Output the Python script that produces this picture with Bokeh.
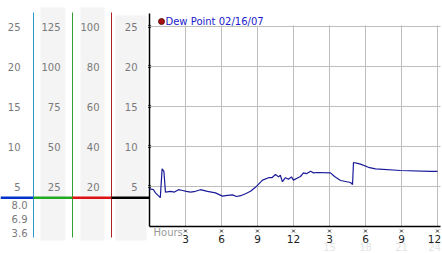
from bokeh.plotting import figure
from bokeh.embed import file_html
from bokeh.resources import INLINE
from bokeh.core.properties import value
from bokeh.models import Range1d

# ---------------- data ----------------
hours = [0.0, 0.33, 0.5, 0.9, 1.05, 1.2, 1.33, 1.75, 2.08, 2.42, 2.75, 3.08, 3.42, 3.83,
         4.25, 4.83, 5.5, 6.08, 6.5, 6.92, 7.25, 7.6, 8.0, 8.42, 8.83, 9.42, 9.92, 10.2,
         10.5, 10.75, 10.9, 11.08, 11.33, 11.58, 11.83, 12.0, 12.25, 12.58, 12.83, 13.08,
         13.42, 13.67, 14.0, 15.08, 15.42, 15.92, 16.75, 16.92, 17.0, 17.33, 17.58, 18.25,
         18.83, 20.92, 23.42, 24.0]
dew = [4.7, 4.6, 4.2, 3.6, 7.2, 6.9, 4.3, 4.4, 4.3, 4.6, 4.5, 4.4, 4.3, 4.4,
       4.6, 4.4, 4.2, 3.8, 3.9, 3.95, 3.75, 3.85, 4.1, 4.4, 4.9, 5.8, 6.1, 6.1,
       6.5, 6.2, 6.4, 5.6, 6.1, 5.9, 6.2, 5.8, 6.0, 6.25, 6.7, 6.6,
       6.9, 6.7, 6.75, 6.7, 6.25, 5.75, 5.5, 5.25, 8.0, 7.9, 7.8, 7.4,
       7.2, 7.0, 6.9, 6.9]

y_ticks = [5, 10, 15, 20, 25]
x_ticks = [3, 6, 9, 12, 15, 18, 21, 24]
x_tick_labels = ["3", "6", "9", "12", "3", "6", "9", "12"]
x_faint_ticks = [15, 18, 21, 24]
x_faint_labels = ["15", "18", "21", "24"]
scale1_labels = ["25", "20", "15", "10", "5"]
scale2_labels = ["125", "100", "75", "50", "25"]
scale3_labels = ["100", "80", "60", "40", "20"]
scale4_labels = ["25", "20", "15", "10", "5"]
series_name = "Dew Point 02/16/07"
x_title = "Hours"

# ---------------- figure ----------------
PX = 12.0   # px per hour
PY = 8.0    # px per unit
X0 = 149.0  # pixel of hour 0
Y0 = 226.0  # pixel of value 0
W, H = 442, 253

def hx(px):
    return (px - X0) / PX

def vy(py):
    return (Y0 - py) / PY

p = figure(width=W, height=H, output_backend="svg", toolbar_location=None,
           x_range=Range1d(hx(0), hx(W)), y_range=Range1d(vy(H), vy(0)),
           min_border=0, outline_line_color=None, background_fill_color="white",
           border_fill_color="white")
p.axis.visible = False
p.grid.visible = False

font = value("DejaVu Sans")
lab_col = "#7a7a7a"

# grey column backgrounds
p.quad(left=[hx(40), hx(80), hx(115)], right=[hx(65), hx(104), hx(146)],
       top=[vy(7), vy(7), vy(15)], bottom=[vy(240)] * 3,
       fill_color="#f4f4f4", line_color=None)

# scale labels
for labels, pxr in ((scale1_labels, 20), (scale2_labels, 60), (scale3_labels, 99), (scale4_labels, 137)):
    p.text(x=[hx(pxr)] * len(labels), y=y_ticks[::-1], text=labels, text_align="right",
           text_baseline="middle", text_font=font, text_font_size="10px", text_color=lab_col)

# coloured vertical scale lines
vcols = ["#3399cc", "#33a033", "#aa2222"]
p.segment(x0=[hx(33), hx(72), hx(111)], x1=[hx(33), hx(72), hx(111)],
          y0=[vy(12)] * 3, y1=[vy(237)] * 3, line_color=vcols, line_width=1)

# baseline at minimum
dmin = min(dew)
dmax = max(dew)
dlast = dew[-1]
p.segment(x0=[hx(0), hx(33), hx(72), hx(111)], x1=[hx(33), hx(72), hx(111), 0],
          y0=[dmin] * 4, y1=[dmin] * 4,
          line_color=["#0033cc", "#22aa22", "#dd1111", "#000000"], line_width=2.5)

# stats labels
stats = ["%.1f" % dmax, "%.1f" % dlast, "%.1f" % dmin]
p.text(x=[hx(27)] * 3, y=[dmin - 0.9, dmin - 2.65, dmin - 4.45], text=stats,
       text_align="right", text_baseline="middle", text_font=font,
       text_font_size="10px", text_color=lab_col)

# grid
grid_col = "#bdbdbd"
p.segment(x0=[0] * len(y_ticks), x1=[hx(440)] * len(y_ticks), y0=y_ticks, y1=y_ticks,
          line_color=grid_col, line_width=1)
p.segment(x0=x_ticks, x1=x_ticks, y0=[0] * len(x_ticks), y1=[vy(25)] * len(x_ticks),
          line_color=grid_col, line_width=1)

# axes
p.segment(x0=[0, 0], x1=[0, hx(440)], y0=[vy(13), 0], y1=[0, 0], line_color="black", line_width=1.5)

# tick marks
p.scatter(x=[0] * len(y_ticks), y=y_ticks, marker="x", size=4, line_color="#333333", line_width=1)
p.scatter(x=x_ticks, y=[vy(230.5)] * len(x_ticks), marker="x", size=4, line_color="#333333", line_width=1)

# tick labels (last one nudged inward so it stays inside the picture)
offs = [0] * (len(x_ticks) - 1) + [-3]
p.text(x=x_ticks, y=[vy(238.5)] * len(x_ticks), text=x_tick_labels, x_offset=offs,
       text_align="center", text_baseline="middle", text_font=font,
       text_font_size="10.5px", text_color="#222222")
foffs = [0] * (len(x_faint_ticks) - 1) + [-3]
p.text(x=x_faint_ticks, y=[vy(246.5)] * len(x_faint_ticks), text=x_faint_labels, x_offset=foffs,
       text_align="center", text_baseline="middle", text_font=font,
       text_font_size="10px", text_color="#e4e4e4")
p.text(x=[hx(153)], y=[vy(232)], text=[x_title], text_align="left", text_baseline="middle",
       text_font=font, text_font_size="10px", text_color="#9a9a9a")

# series
p.line(hours, dew, line_color="#1a1a99", line_width=1.2)

# legend
p.scatter(x=[hx(161)], y=[vy(21)], marker="circle", size=6, fill_color="#aa1111",
          line_color="#440000", line_width=0.8)
p.text(x=[hx(165)], y=[vy(21)], text=[series_name], text_align="left", text_baseline="middle",
       text_font=font, text_font_size="10px", text_color="#1a1acc")

open("out.html", "w").write(file_html(p, INLINE))
